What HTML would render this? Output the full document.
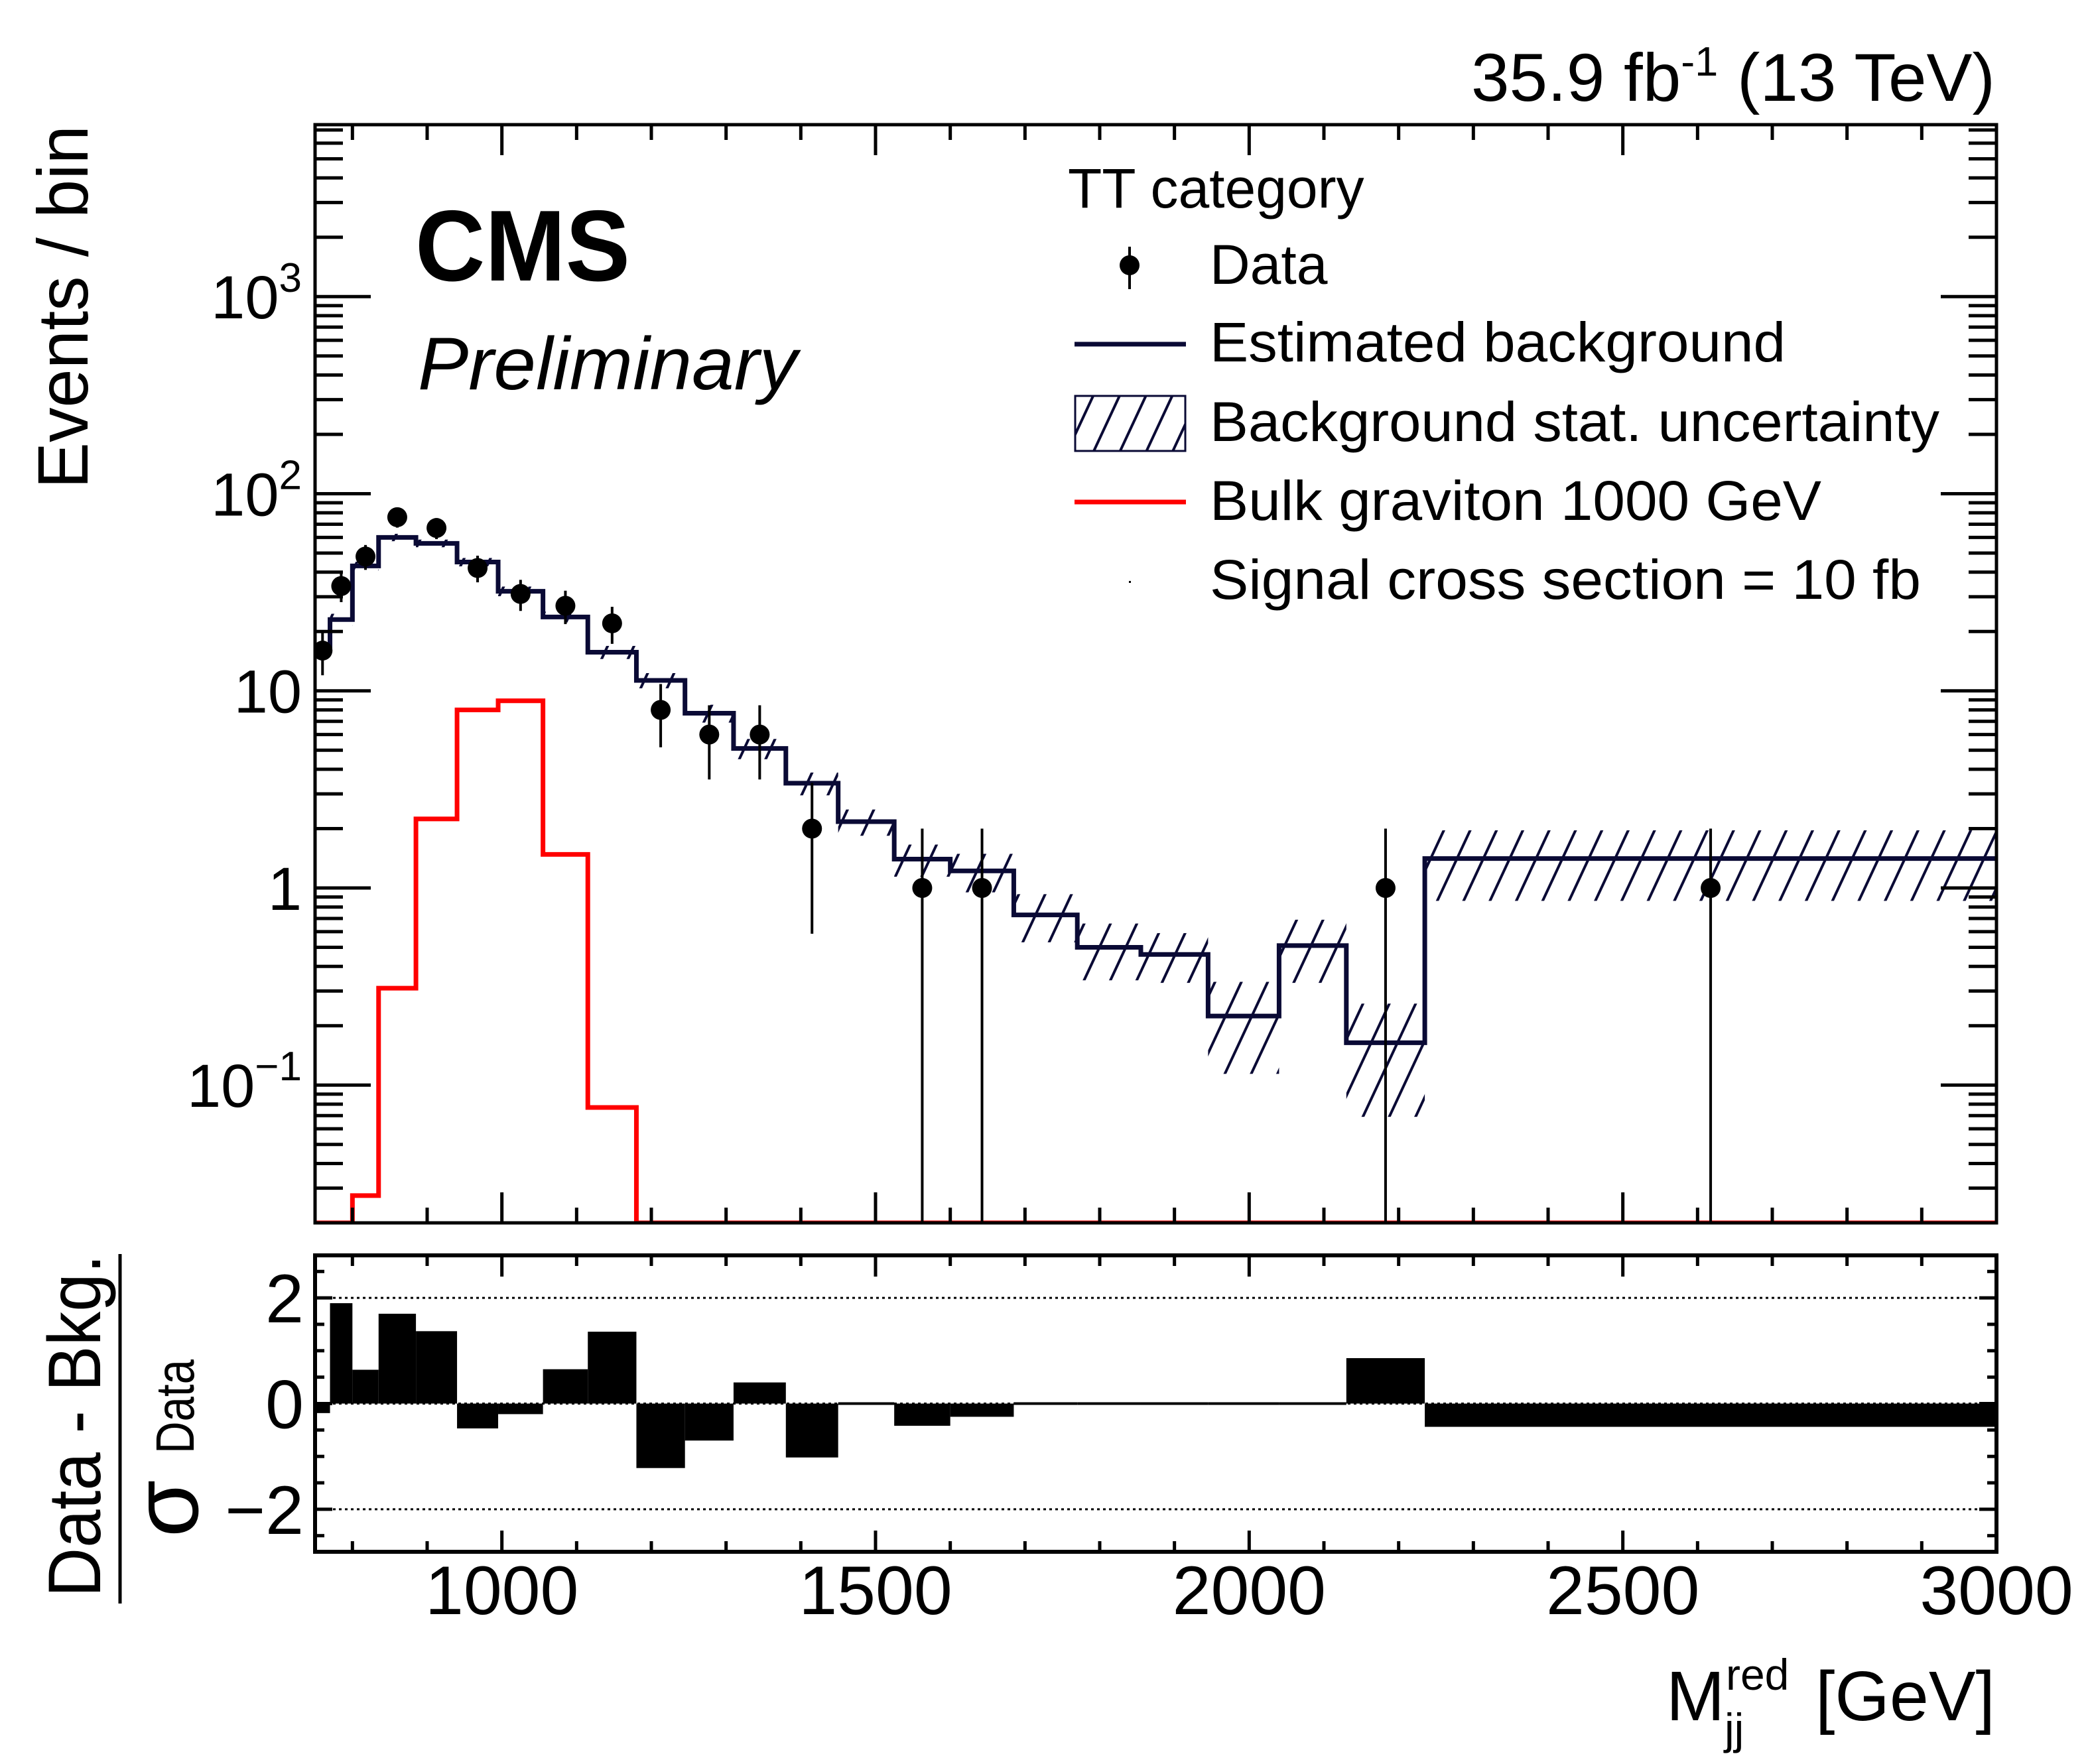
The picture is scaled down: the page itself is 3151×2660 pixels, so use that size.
<!DOCTYPE html>
<html><head><meta charset="utf-8"><style>
html,body{margin:0;padding:0;background:#fff;}
svg{display:block;font-family:"Liberation Sans",Arial,sans-serif;}
</style></head><body>
<svg id="chart" width="3151" height="2660" viewBox="0 0 3151 2660" xmlns="http://www.w3.org/2000/svg">
<defs>
<pattern id="hatch" patternUnits="userSpaceOnUse" width="36" height="36" patternTransform="rotate(25)">
<line x1="18" y1="0" x2="18" y2="36" stroke="#0a0a35" stroke-width="4"/>
</pattern>
<clipPath id="mainClip"><rect x="475" y="188" width="2535" height="1656"/></clipPath>
<clipPath id="ratioClip"><rect x="475" y="1893" width="2535" height="447"/></clipPath>
</defs>
<g id="main"></g>
<g id="ratio"></g>
<g id="texts">
<text x="2218" y="152" font-size="102" textLength="790" lengthAdjust="spacingAndGlyphs">35.9 fb<tspan dy="-38" font-size="62">-1</tspan><tspan dy="38"> (13 TeV)</tspan></text>
<text x="626" y="423" font-size="152" font-weight="bold" textLength="324" lengthAdjust="spacingAndGlyphs">CMS</text>
<text x="630" y="587" font-size="112" font-style="italic" textLength="572" lengthAdjust="spacingAndGlyphs">Preliminary</text>
<text x="1610" y="313" font-size="84">TT category</text>
<g font-size="84">
<line x1="1703" y1="372" x2="1703" y2="436" stroke="#000" stroke-width="4"/>
<circle cx="1703" cy="400" r="15" fill="#000"/>
<text x="1824" y="428">Data</text>
<line x1="1620" y1="519" x2="1788" y2="519" stroke="#0a0a35" stroke-width="7"/>
<text x="1824" y="545" textLength="868" lengthAdjust="spacingAndGlyphs">Estimated background</text>
<rect x="1621" y="597" width="166" height="83" fill="url(#hatch)" stroke="#0a0a35" stroke-width="3"/>
<text x="1824" y="665" textLength="1100" lengthAdjust="spacingAndGlyphs">Background stat. uncertainty</text>
<line x1="1620" y1="757" x2="1788" y2="757" stroke="#ff0000" stroke-width="7"/>
<text x="1824" y="784" textLength="922" lengthAdjust="spacingAndGlyphs">Bulk graviton 1000 GeV</text>
<rect x="1702" y="876" width="3" height="3" fill="#000"/>
<text x="1824" y="903" textLength="1072" lengthAdjust="spacingAndGlyphs">Signal cross section = 10 fb</text>
</g>
<text transform="translate(132,737) rotate(-90)" font-size="108" textLength="548" lengthAdjust="spacingAndGlyphs">Events / bin</text>
<text transform="translate(151,2150) rotate(-90)" font-size="112" text-anchor="middle" textLength="517" lengthAdjust="spacingAndGlyphs">Data - Bkg.</text>
<line x1="181" y1="1891" x2="181" y2="2418" stroke="#000" stroke-width="5"/>
<text transform="translate(298,2318) rotate(-90)" font-size="140">σ</text>
<text transform="translate(292,2192) rotate(-90)" font-size="82" textLength="142" lengthAdjust="spacingAndGlyphs">Data</text>
<text x="2512" y="2594" font-size="106">M</text>
<text x="2602" y="2548" font-size="66">red</text>
<text x="2600" y="2630" font-size="66">jj</text>
<text x="3008" y="2594" font-size="106" text-anchor="end">[GeV]</text>
</g>
</svg>
<script>
// ---- data ----
const binEdges = [750,770,800,835,885,940,995,1055,1115,1180,1245,1310,1380,1450,1525,1600,1685,1770,1855,1945,2040,2130,2235,3000];
const bkgValues = [16.2,23,43,60,56,45,32,23.7,15.7,11.3,7.7,5.1,3.4,2.17,1.4,1.22,0.73,0.50,0.46,0.224,0.51,0.164,1.41];
const bkgErrors = [1.5,1.6,2.2,2.6,2.5,2.2,1.8,1.5,1.2,1.0,0.8,0.6,0.45,0.33,0.26,0.27,0.2,0.16,0.13,0.11,0.18,0.095,0.55];
const dataCounts = [16,34,48,76,67,42,31,27,22,8,6,6,2,0,1,1,0,0,0,0,0,1,1];
const signalValues = [0,0,0.0275,0.31,2.24,8.0,8.9,1.48,0.077,0,0,0,0,0,0,0,0,0,0,0,0,0,0];
const pullValues = [-0.18,1.9,0.64,1.70,1.37,-0.47,-0.2,0.65,1.36,-1.22,-0.70,0.40,-1.02,0,-0.42,-0.25,0,0,0,0,0,0.86,-0.44];
const xTickLabels = [1000,1500,2000,2500,3000];
const yDecadeLabels = [-1,0,1,2,3];
const ratioTickLabels = [-2,0,2];

// ---- axes ----
const X0=475, X1=3010, XMIN=750, XMAX=3000;
const px = v => X0 + (v-XMIN)*(X1-X0)/(XMAX-XMIN);
const YT=188, YB=1844;
const LMIN=Math.log10(0.02), LMAX=3+(447-188)/297;
const py = v => { const l = v>0?Math.log10(v):-10; const c=Math.max(l,LMIN); return YB - (c-LMIN)*(YB-YT)/(LMAX-LMIN); };
const RT=1893, RB=2340, RMIN=-2.805, RMAX=2.805;
const pr = v => RB - (v-RMIN)*(RB-RT)/(RMAX-RMIN);

const NS="http://www.w3.org/2000/svg";
function mk(tag, parent, attrs){ const e=document.createElementNS(NS,tag); for(const k in attrs) e.setAttribute(k,attrs[k]); parent.appendChild(e); return e; }
const main=document.getElementById('main'), ratio=document.getElementById('ratio');

// hatched uncertainty band
const band=mk('g',main,{'clip-path':'url(#mainClip)'});


bkgValues.forEach((b,i)=>{
  const lo=Math.max(b-bkgErrors[i],1e-3), hi=b+bkgErrors[i];
  const r=mk('rect',band,{x:px(binEdges[i]),y:py(hi),width:px(binEdges[i+1])-px(binEdges[i]),height:py(lo)-py(hi),fill:'url(#hatch)'});
  
  
});

function stepPath(vals){
  let d='';
  vals.forEach((v,i)=>{ const y=py(v); d += (i===0?'M':'L')+px(binEdges[i])+','+y+' L'+px(binEdges[i+1])+','+y+' '; });
  return d;
}
// signal
const sig=mk('path',main,{d:stepPath(signalValues),fill:'none',stroke:'#ff0000','stroke-width':7,'clip-path':'url(#mainClip)'});


// background
const bkg=mk('path',main,{d:stepPath(bkgValues),fill:'none',stroke:'#0a0a35','stroke-width':7});



// data points
dataCounts.forEach((n,i)=>{
  if(n<=0) return;
  const cx=(px(binEdges[i])+px(binEdges[i+1]))/2, e=Math.sqrt(n);
  const g=mk('g',main,{'clip-path':'url(#mainClip)'});
  
  
  mk('line',g,{x1:cx,x2:cx,y1:py(n+e),y2:py(Math.max(n-e,1e-6)),stroke:'#000','stroke-width':4});
  mk('circle',g,{cx:cx,cy:py(n),r:15,fill:'#000'});
});

// main frame & ticks
const fr=mk('rect',main,{x:X0,y:YT,width:X1-X0,height:YB-YT,fill:'none',stroke:'#000','stroke-width':5});


const tk=mk('g',main,{stroke:'#000','stroke-width':5});


for(let v=800; v<=3000; v+=100){
  const x=px(v), L=(v%500===0)?46:23;
  mk('line',tk,{x1:x,x2:x,y1:YB,y2:YB-L}); mk('line',tk,{x1:x,x2:x,y1:YT,y2:YT+L});
}
for(let d=-2; d<=3; d++){
  for(let m=1;m<=9;m++){
    const v=m*Math.pow(10,d), y=py(v);
    if(y<YT||y>YB||v<0.021) continue;
    const L=(m===1)?84:42;
    mk('line',tk,{x1:X0,x2:X0+L,y1:y,y2:y}); mk('line',tk,{x1:X1,x2:X1-L,y1:y,y2:y});
  }
}
// y labels
const yl=mk('g',main,{'font-size':92,'text-anchor':'end'});


yDecadeLabels.forEach(d=>{
  const y=py(Math.pow(10,d))+33;
  const t=mk('text',yl,{x:455,y:y});
  
  
  if(d===0) t.textContent='1';
  else if(d===1) t.textContent='10';
  else { t.textContent='10'; const s=mk('tspan',t,{dy:-40,'font-size':62}); s.textContent=(d<0?'\u2212':'')+Math.abs(d); }
});

// ---- ratio panel ----
const rb=mk('g',ratio,{'clip-path':'url(#ratioClip)'});


pullValues.forEach((p,i)=>{
  const x=px(binEdges[i]), w=px(binEdges[i+1])-x;
  const y0=pr(0), y1=pr(p);
  const r=mk('rect',rb,{x:x,y:Math.min(y0,y1)-(p===0?2:0),width:w,height:Math.max(Math.abs(y1-y0),4),fill:'#000'});
  
  
});
[2,0,-2].forEach(v=>{
  const l=mk('line',ratio,{x1:X0,x2:X1,y1:pr(v),y2:pr(v),stroke:'#000','stroke-width':3,'stroke-dasharray':'4 5'});
  
  
});
const rf=mk('rect',ratio,{x:X0,y:RT,width:X1-X0,height:RB-RT,fill:'none',stroke:'#000','stroke-width':6});


const rt=mk('g',ratio,{stroke:'#000','stroke-width':5});


for(let v=800; v<=3000; v+=100){
  const x=px(v), L=(v%500===0)?32:16;
  mk('line',rt,{x1:x,x2:x,y1:RB,y2:RB-L}); mk('line',rt,{x1:x,x2:x,y1:RT,y2:RT+L});
}
for(let v=-2.5; v<=2.5; v+=0.5){
  const y=pr(v), L=(v%2===0)?26:14;
  mk('line',rt,{x1:X0,x2:X0+L,y1:y,y2:y}); mk('line',rt,{x1:X1,x2:X1-L,y1:y,y2:y});
}
const rl=mk('g',ratio,{'font-size':104,'text-anchor':'end'});


ratioTickLabels.forEach(v=>{
  const t=mk('text',rl,{x:458,y:pr(v)+37});
  
  
  t.textContent=(v<0?'\u2212':'')+Math.abs(v);
});
const xl=mk('g',ratio,{'font-size':104,'text-anchor':'middle'});


xTickLabels.forEach(v=>{
  const t=mk('text',xl,{x:px(v),y:2434});
  
  
  t.textContent=v;
});
</script>
</body></html>
